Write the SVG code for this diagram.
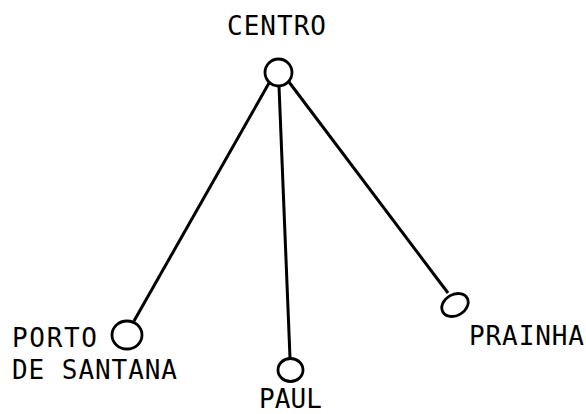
<svg xmlns="http://www.w3.org/2000/svg" width="586" height="414" viewBox="0 0 586 414">
<style>
.lbl{font-family:"DejaVu Sans Mono","Liberation Mono",monospace;font-size:26px;fill:#000}
.nd{fill:#fff;stroke:#000;stroke-width:2.8}
.ln{stroke:#000;stroke-width:3;fill:none}
</style>
<rect width="586" height="414" fill="#fff"/>
<g id="connectors">
<line class="ln" x1="269" y1="83" x2="134" y2="321"/>
<line class="ln" x1="279" y1="86" x2="290" y2="358"/>
<line class="ln" x1="289" y1="82" x2="448" y2="293"/>
</g>
<g id="centro">
<circle class="nd" cx="278.5" cy="72.5" r="13.5"/>
<text class="lbl" x="227" y="35" textLength="99" lengthAdjust="spacing">CENTRO</text>
</g>
<g id="porto">
<ellipse class="nd" cx="127" cy="335" rx="15" ry="14"/>
<text class="lbl" x="12" y="347" textLength="85" lengthAdjust="spacing">PORTO</text>
<text class="lbl" x="12" y="379" textLength="165" lengthAdjust="spacing">DE SANTANA</text>
</g>
<g id="paul">
<ellipse class="nd" cx="290.5" cy="370" rx="12.5" ry="11.5"/>
<text class="lbl" x="259" y="408" textLength="63" lengthAdjust="spacing">PAUL</text>
</g>
<g id="prainha">
<ellipse class="nd" cx="455" cy="305" rx="14" ry="10.5" transform="rotate(-30 455 305)"/>
<text class="lbl" x="469" y="345" textLength="115" lengthAdjust="spacing">PRAINHA</text>
</g>
</svg>
